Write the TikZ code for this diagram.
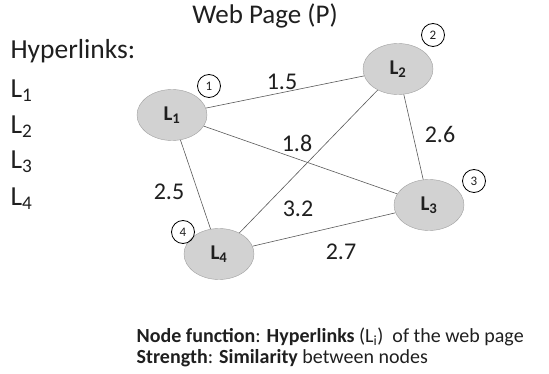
\documentclass[tikz,border=0pt]{standalone}
\usepackage{fontspec}
\setmainfont{Carlito}
\usetikzlibrary{shapes.geometric}

\tikzset{
    link/.style={ellipse, draw=gray!75, fill=gray!35, minimum width=70pt,
        minimum height=51pt, inner sep=1pt, font=\fontsize{21}{24}\selectfont\bfseries},
    tag/.style={circle, draw, thick, inner sep=0pt, minimum size=23pt,
        font=\fontsize{13}{15}\selectfont},
    weight/.style={font=\fontsize{24}{28}\selectfont},
    edge/.style={draw=black!65, line width=0.6pt},
    bigtext/.style={anchor=base west, font=\fontsize{27.5}{32}\selectfont},
    note/.style={anchor=base west, inner sep=0.5pt, align=left,
        font=\fontsize{20}{21}\selectfont}
}

\begin{document}
\begin{tikzpicture}[x=1pt, y=-1pt, text=black!88]
    \useasboundingbox (0,0) rectangle (549,374);

    \node[anchor=base, font=\fontsize{27}{32}\selectfont] (title) at (265,24) {Web Page (P)};
    \node[bigtext] (hyper) at (7,59) {Hyperlinks:};
    \foreach \i/\y in {1/98, 2/134, 3/169, 4/206}{
        \node[bigtext] (list\i) at (7,\y) {L\textsubscript{\i}};
    }

    \node[link] (L1) at (172,115) {L\textsubscript{1}};
    \node[link] (L2) at (398,69) {L\textsubscript{2}};
    \node[link] (L3) at (429,205) {L\textsubscript{3}};
    \node[link] (L4) at (219,254) {L\textsubscript{4}};

    \foreach \i/\x/\y in {1/209/86, 2/433/35, 3/474/181, 4/183/232}{
        \node[tag] (tag\i) at (\x,\y) {\i};
    }

    \draw[edge] (L1) -- (L2);
    \draw[edge] (L1) -- (L3);
    \draw[edge] (L1) -- (L4);
    \draw[edge] (L2) -- (L3);
    \draw[edge] (L2) -- (L4);
    \draw[edge] (L3) -- (L4);

    \node[weight] (w12) at (282,82) {1.5};
    \node[weight] (w13) at (297,143) {1.8};
    \node[weight] (w23) at (440,134) {2.6};
    \node[weight] (w14) at (169,192) {2.5};
    \node[weight] (w24) at (298,209) {3.2};
    \node[weight] (w34) at (341,252) {2.7};

    \node[note] (legend) at (136,363)
        {\textbf{Node function}: \textbf{Hyperlinks} (L\textsubscript{i})\ \ of the web page\\
         \textbf{Strength}: \textbf{Similarity} between nodes};
\end{tikzpicture}
\end{document}
